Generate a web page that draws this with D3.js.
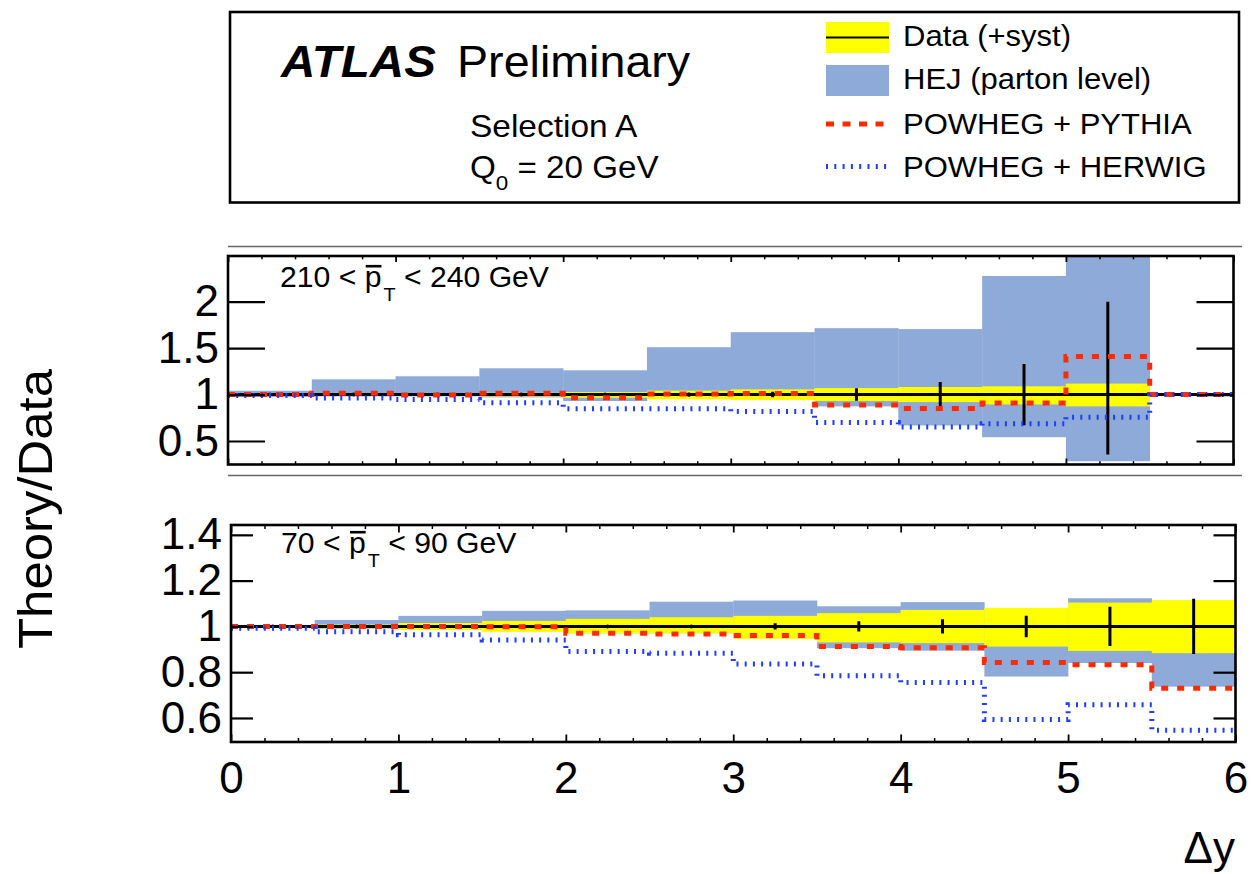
<!DOCTYPE html>
<html><head><meta charset="utf-8">
<script src="https://cdn.jsdelivr.net/npm/d3@7/dist/d3.min.js"></script>
<style>
body{margin:0;background:#fff}
svg text{font-family:"Liberation Sans",Arial,Helvetica,sans-serif;fill:#000}
</style>
</head><body>
<svg id="chart" width="1253" height="874"></svg>
<script>
// ---------------- DATA ----------------
const binEdges = [0,0.5,1,1.5,2,2.5,3,3.5,4,4.5,5,5.5];
const binWidth = 0.5;
const xMajorTicks = [0,1,2,3,4,5,6];

// Panel 1 : 210 < pT < 240 GeV
const topDataCentral = [1,1,1,1,1,1,1,1,1,1,1,1];
const topSystUp   = [1.005,1.01,1.015,1.02,1.027,1.042,1.056,1.07,1.081,1.089,1.118,1.0];
const topSystDown = [0.995,0.99,0.985,0.98,0.966,0.948,0.941,0.93,0.919,0.894,0.873,1.0];
const topStatUp   = [0.003,0.005,0.007,0.01,0.015,0.02,0.03,0.067,0.135,0.33,1.0,null];
const topStatDown = [0.003,0.005,0.007,0.01,0.015,0.02,0.03,0.067,0.135,0.33,0.645,null];
const topHejUp    = [1.041,1.164,1.197,1.283,1.261,1.51,1.672,1.715,1.705,2.277,2.6,null];
const topHejDown  = [0.975,0.98,0.98,0.97,0.93,0.96,0.96,0.873,0.667,0.541,0.282,null];
const topPythia   = [1.0,1.013,0.995,1.013,0.966,1.005,1.012,0.887,0.851,0.908,1.41,1.0];
const topHerwig   = [0.99,0.963,0.948,0.912,0.848,0.848,0.818,0.70,0.65,0.686,0.757,1.0];
const topYTicks   = [0.5,1,1.5,2];

// Panel 2 : 70 < pT < 90 GeV
const botDataCentral = [1,1,1,1,1,1,1,1,1,1,1,1];
const botSystUp   = [1.003,1.008,1.015,1.024,1.033,1.04,1.046,1.058,1.072,1.081,1.104,1.115];
const botSystDown = [0.997,0.992,0.985,0.976,0.97,0.97,0.945,0.93,0.927,0.912,0.893,0.883];
const botStatUp   = [0.001,0.001,0.002,0.003,0.004,0.005,0.014,0.022,0.031,0.047,0.086,0.121];
const botStatDown = [0.001,0.001,0.002,0.003,0.004,0.005,0.014,0.022,0.031,0.047,0.086,0.121];
const botHejUp    = [1.005,1.028,1.046,1.068,1.07,1.108,1.113,1.088,1.106,1.07,1.123,1.10];
const botHejDown  = [0.995,0.99,0.985,0.98,0.97,0.97,0.95,0.905,0.894,0.781,0.84,0.737];
const botPythia   = [1.0,1.0,1.0,0.998,0.97,0.967,0.96,0.912,0.907,0.842,0.832,0.73];
const botHerwig   = [0.992,0.977,0.963,0.941,0.89,0.883,0.836,0.784,0.755,0.593,0.658,0.546];
const botYTicks   = [0.6,0.8,1,1.2,1.4];

const legendLabels = ["Data (+syst)","HEJ (parton level)","POWHEG + PYTHIA","POWHEG + HERWIG"];

// ---------------- STYLE ----------------
const COL_YELLOW = "#ffff00";
const COL_HEJ = "#8eaad9";
const COL_RED = "#ff2a00";
const COL_BLUE = "#1f3cff";
const RED_DASH = "7,9";
const BLUE_DOT = "2,6.2";

const svg = d3.select("#chart");

// text helper: places text at (x,y) with a horizontal stretch factor
function stext(x, y, size, sx) {
  return svg.append("text")
    .attr("transform", `translate(${x},${y}) scale(${sx},1)`)
    .attr("font-size", size);
}

function drawPanel(P, idx) {
  const x = d3.scaleLinear().domain([0,6]).range([P.left, P.right]);
  const y = d3.scaleLinear().domain(P.yDomain).range([P.bottom, P.top]);
  const clipId = "clip" + idx;
  svg.append("clipPath").attr("id", clipId).append("rect")
    .attr("x", P.left).attr("y", P.top)
    .attr("width", P.right - P.left).attr("height", P.bottom - P.top);
  const plot = svg.append("g").attr("clip-path", `url(#${clipId})`);

  const bins = binEdges.map((e,i) => ({
    e, hu: P.hejUp[i], hd: P.hejDown[i], su: P.systUp[i], sd: P.systDown[i],
    c: P.central[i], stu: P.statUp[i], std: P.statDown[i]
  }));

  // HEJ band
  plot.selectAll("rect.hej").data(bins.filter(d => d.hu != null)).join("rect")
    .attr("class","hej")
    .attr("x", d => x(d.e)).attr("width", d => x(d.e + binWidth) - x(d.e) + 0.3)
    .attr("y", d => y(d.hu)).attr("height", d => y(d.hd) - y(d.hu))
    .attr("fill", COL_HEJ);

  // Data systematic band
  plot.selectAll("rect.syst").data(bins.filter(d => d.su > d.sd)).join("rect")
    .attr("class","syst")
    .attr("x", d => x(d.e)).attr("width", d => x(d.e + binWidth) - x(d.e) + 0.3)
    .attr("y", d => y(d.su)).attr("height", d => y(d.sd) - y(d.su))
    .attr("fill", COL_YELLOW);

  const step = d3.line().x(d => x(d[0])).y(d => y(d[1])).curve(d3.curveStepAfter);
  const stepPts = arr => binEdges.map((e,i) => [e, arr[i]]).concat([[6, arr[arr.length-1]]]);

  // Data central line
  plot.append("path").attr("d", step(stepPts(P.central)))
    .attr("fill","none").attr("stroke","#000").attr("stroke-width",3);

  // Stat error bars
  const withStat = bins.filter(d => d.stu != null);
  plot.selectAll("line.stat").data(withStat).join("line")
    .attr("x1", d => x(d.e + binWidth/2)).attr("x2", d => x(d.e + binWidth/2))
    .attr("y1", d => y(d.c + d.stu)).attr("y2", d => y(d.c - d.std))
    .attr("stroke","#000").attr("stroke-width",3);
  plot.selectAll("circle.mk").data(withStat).join("circle")
    .attr("cx", d => x(d.e + binWidth/2)).attr("cy", d => y(d.c)).attr("r", 2)
    .attr("fill","#000");

  // POWHEG + PYTHIA
  plot.append("path").attr("d", step(stepPts(P.pythia)))
    .attr("fill","none").attr("stroke",COL_RED).attr("stroke-width",5)
    .attr("stroke-dasharray", RED_DASH);
  // POWHEG + HERWIG
  plot.append("path").attr("d", step(stepPts(P.herwig)))
    .attr("fill","none").attr("stroke",COL_BLUE).attr("stroke-width",5)
    .attr("stroke-dasharray", BLUE_DOT);

  // Axes (ROOT style: ticks inside)
  const styleAxis = g => {
    g.select(".domain").remove();
    g.attr("font-family", null).attr("font-size", null);
    g.selectAll("line").attr("stroke","#000");
  };
  const fmt = d3.format("~g");
  svg.append("g").attr("transform", `translate(${P.left},0)`)
    .call(d3.axisLeft(y).tickValues(P.yTicks).tickSize(-P.yTickLen).tickPadding(9).tickFormat(fmt))
    .call(styleAxis)
    .call(g => g.selectAll("line").attr("stroke-width",2.2))
    .call(g => g.selectAll("text").attr("font-size",44).attr("fill","#000"));
  svg.append("g").attr("transform", `translate(${P.right},0)`)
    .call(d3.axisRight(y).tickValues(P.yTicks).tickSize(-P.yTickLen).tickFormat(() => ""))
    .call(styleAxis)
    .call(g => g.selectAll("line").attr("stroke-width",2.2));

  const minor = d3.range(0, 6.0001, 0.2).filter(v => Math.abs(v - Math.round(v)) > 1e-6);
  // bottom edge
  svg.append("g").attr("transform", `translate(0,${P.bottom})`)
    .call(d3.axisBottom(x).tickValues(xMajorTicks).tickSize(-P.xMajorLen).tickPadding(20)
      .tickFormat(P.showXLabels ? fmt : () => ""))
    .call(styleAxis)
    .call(g => g.selectAll("line").attr("stroke-width",1.8))
    .call(g => g.selectAll("text").attr("font-size",44).attr("fill","#000"));
  svg.append("g").attr("transform", `translate(0,${P.bottom})`)
    .call(d3.axisBottom(x).tickValues(minor).tickSize(-P.xMinorLen).tickFormat(() => ""))
    .call(styleAxis).call(g => g.selectAll("line").attr("stroke-width",1.5));
  // top edge
  svg.append("g").attr("transform", `translate(0,${P.top})`)
    .call(d3.axisTop(x).tickValues(xMajorTicks).tickSize(-P.xMajorLen).tickFormat(() => ""))
    .call(styleAxis).call(g => g.selectAll("line").attr("stroke-width",1.8));
  svg.append("g").attr("transform", `translate(0,${P.top})`)
    .call(d3.axisTop(x).tickValues(minor).tickSize(-P.xMinorLen).tickFormat(() => ""))
    .call(styleAxis).call(g => g.selectAll("line").attr("stroke-width",1.5));

  // Frame
  svg.append("rect").attr("x", P.left).attr("y", P.top)
    .attr("width", P.right - P.left).attr("height", P.bottom - P.top)
    .attr("fill","none").attr("stroke","#000").attr("stroke-width",2.6);

  // Panel label with overlined p and subscript T
  const sx = 1.04;
  const t = stext(P.labelX, P.labelY, 29, sx);
  t.append("tspan").text(P.labelLo + " < ");
  t.append("tspan").text("p");
  t.append("tspan").attr("font-size", 19).attr("dy", 14).attr("dx", 2).text("T");
  t.append("tspan").attr("dy", -14).text(" < " + P.labelHi + " GeV");
  const pIdx = (P.labelLo + " < ").length;
  const node = t.node();
  const s = node.getStartPositionOfChar(pIdx), e = node.getEndPositionOfChar(pIdx);
  svg.append("line")
    .attr("x1", P.labelX + (s.x + 1) * sx).attr("x2", P.labelX + e.x * sx)
    .attr("y1", P.labelY - 20.5).attr("y2", P.labelY - 20.5)
    .attr("stroke","#000").attr("stroke-width",2.6);
}

// separators
[246.5, 475.5].forEach(yy => svg.append("line").attr("x1",228).attr("x2",1242)
  .attr("y1",yy).attr("y2",yy).attr("stroke","#666").attr("stroke-width",1.6));

drawPanel({
  left:228, right:1233.5, top:256, bottom:464.5, yDomain:[0.247,2.492],
  yTicks: topYTicks, yTickLen: 37, xMajorLen: 6, xMinorLen: 3.3, showXLabels: false,
  central: topDataCentral, systUp: topSystUp, systDown: topSystDown,
  statUp: topStatUp, statDown: topStatDown, hejUp: topHejUp, hejDown: topHejDown,
  pythia: topPythia, herwig: topHerwig,
  labelX: 280, labelY: 286.7, labelLo: "210", labelHi: "240"
}, 1);

drawPanel({
  left:231, right:1235.5, top:525, bottom:742, yDomain:[0.495,1.443],
  yTicks: botYTicks, yTickLen: 22, xMajorLen: 7.5, xMinorLen: 4, showXLabels: true,
  central: botDataCentral, systUp: botSystUp, systDown: botSystDown,
  statUp: botStatUp, statDown: botStatDown, hejUp: botHejUp, hejDown: botHejDown,
  pythia: botPythia, herwig: botHerwig,
  labelX: 281, labelY: 552.7, labelLo: "70", labelHi: "90"
}, 2);

// Axis titles
svg.append("text").attr("transform","translate(52,509) rotate(-90) scale(1.06,1)")
  .attr("text-anchor","middle").attr("font-size",48).text("Theory/Data");
svg.append("text").attr("x",1235).attr("y",863).attr("text-anchor","end")
  .attr("font-size",44).text("\u0394y");

// Legend box
svg.append("rect").attr("x",230).attr("y",12).attr("width",1009).attr("height",190.5)
  .attr("fill","none").attr("stroke","#000").attr("stroke-width",2.6);
stext(281, 76.5, 44, 1.08).attr("font-weight","bold").attr("font-style","italic").text("ATLAS");
stext(457, 76.5, 44, 1.06).text("Preliminary");
stext(470, 136.5, 31, 1.08).text("Selection A");
const q = stext(470, 178, 31, 1.07);
q.append("tspan").text("Q");
q.append("tspan").attr("font-size",21).attr("dy",12).text("0");
q.append("tspan").attr("dy",-12).text(" = 20 GeV");

const legY = [46, 89.3, 134, 176.7];
svg.append("rect").attr("x",826).attr("y",22).attr("width",63).attr("height",31).attr("fill",COL_YELLOW);
svg.append("line").attr("x1",826).attr("x2",889).attr("y1",37.5).attr("y2",37.5).attr("stroke","#000").attr("stroke-width",2.2);
svg.append("rect").attr("x",826).attr("y",65).attr("width",63).attr("height",31).attr("fill",COL_HEJ);
svg.append("line").attr("x1",826).attr("x2",886).attr("y1",124).attr("y2",124)
  .attr("stroke",COL_RED).attr("stroke-width",5).attr("stroke-dasharray","8,8.5");
svg.append("line").attr("x1",826).attr("x2",888).attr("y1",166.5).attr("y2",166.5)
  .attr("stroke",COL_BLUE).attr("stroke-width",5).attr("stroke-dasharray","2,6.3");
svg.selectAll("text.leg").data(legendLabels).join("text").attr("class","leg")
  .attr("transform",(d,i) => `translate(903,${legY[i]}) scale(1.07,1)`)
  .attr("font-size",29).text(d => d);
</script>
</body></html>
